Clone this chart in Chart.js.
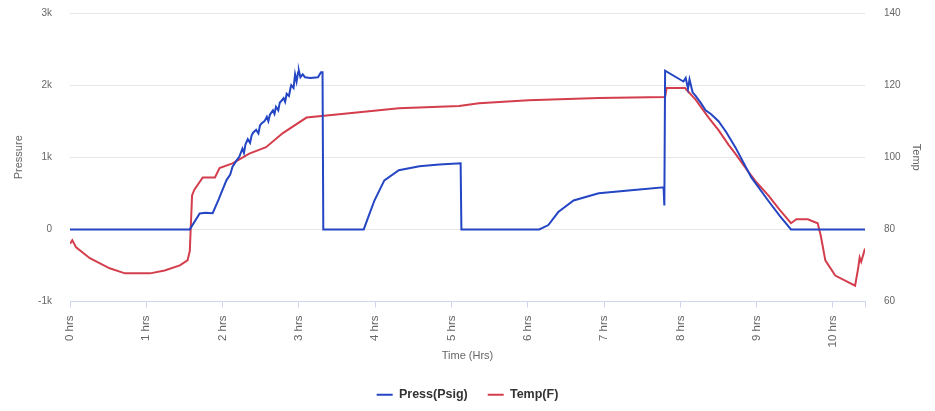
<!DOCTYPE html>
<html>
<head>
<meta charset="utf-8">
<script src="https://cdn.jsdelivr.net/npm/chart.js@4"></script>
<style>
  html, body { margin: 0; padding: 0; background: #fff; }
  #wrap { width: 935px; height: 411px; }
</style>
</head>
<body>
<div id="wrap"><canvas id="chart"></canvas></div>
<script>
// Pressure trace (hours, psig)
const pressHours = [0, 1.57, 1.70, 1.78, 1.87, 1.95, 2.05, 2.10, 2.13, 2.18, 2.22, 2.26, 2.28, 2.30, 2.33, 2.36, 2.38, 2.40, 2.44, 2.47, 2.49, 2.51, 2.55, 2.58, 2.60, 2.62, 2.66, 2.68, 2.70, 2.73, 2.75, 2.77, 2.80, 2.82, 2.84, 2.87, 2.89, 2.90, 2.93, 2.95, 2.97, 2.99, 3.00, 3.02, 3.05, 3.08, 3.15, 3.25, 3.29, 3.31, 3.32,
  3.85, 3.92, 3.99, 4.12, 4.31, 4.58, 4.84, 5.12, 5.13,
  6.15, 6.27, 6.40, 6.60, 6.93, 7.32, 7.78, 7.79, 7.80, 8.04, 8.07, 8.10, 8.12, 8.16, 8.20, 8.27, 8.33, 8.40, 8.50, 8.60, 8.72, 8.93, 9.15, 9.30, 9.45, 10.42];
const pressVals = [0, 0, 220, 230, 225, 420, 680, 760, 870, 950, 1010, 1120, 1060, 1180, 1250, 1200, 1300, 1340, 1380, 1330, 1440, 1470, 1500, 1560, 1500, 1590, 1650, 1600, 1700, 1650, 1760, 1780, 1820, 1770, 1880, 1850, 1960, 2000, 1960, 2150, 2050, 2180, 2200, 2110, 2150, 2110, 2100, 2110, 2180, 2180, 0,
  0, 200, 400, 680, 820, 875, 900, 917, 0,
  0, 60, 240, 400, 500, 540, 583, 330, 2200, 2050, 2100, 1950, 2080, 1900, 1850, 1750, 1650, 1600, 1500, 1350, 1140, 720, 400, 190, 0, 0];

// Temperature trace (hours, F)
const tempHours = [0, 0.03, 0.08, 0.26, 0.52, 0.72, 1.05, 1.24, 1.44, 1.54, 1.57, 1.60, 1.63, 1.74, 1.90, 1.96, 2.13, 2.35, 2.57, 2.79, 3.10, 3.66, 4.31, 5.10, 5.36, 6.01, 6.93, 7.80, 7.82, 8.06, 8.20, 8.37, 8.50, 8.63, 8.72, 8.89, 9.00, 9.15, 9.30, 9.45, 9.52, 9.67, 9.80, 9.84, 9.90, 10.03, 10.29, 10.33, 10.35, 10.37, 10.42];
const tempVals = [76, 77, 75, 72, 69.2, 67.8, 67.8, 68.6, 70, 71.4, 74, 89.4, 91, 94.4, 94.4, 97, 98.3, 101, 102.8, 106.7, 111, 112.2, 113.6, 114.2, 115, 115.8, 116.4, 116.7, 119.2, 119.2, 116, 111, 107.5, 103.5, 101, 96, 93, 89.5, 85.5, 81.7, 82.8, 82.8, 81.7, 78.3, 71.4, 67.2, 64.4, 69.2, 72.2, 71, 74.7];

const pressLabel = 'Press(Psig)';
const tempLabel = 'Temp(F)';

const FONT = '"Lucida Grande", "Liberation Sans", Arial, sans-serif';
const GRID = '#e6e6e6';
const AXIS = '#ccd6eb';
const TXT = '#666666';

const ctx = document.getElementById('chart').getContext('2d');

const chart = new Chart(ctx, {
  type: 'line',
  data: {
    datasets: [{
      label: pressLabel,
      data: pressHours.map((h, i) => ({ x: h, y: pressVals[i] })),
      borderColor: '#2445c4',
      backgroundColor: '#2445c4',
      borderWidth: 2,
      pointRadius: 0,
      tension: 0,
      yAxisID: 'yP'
    }, {
      label: tempLabel,
      data: tempHours.map((h, i) => ({ x: h, y: tempVals[i] })),
      borderColor: '#d43e4c',
      backgroundColor: '#d43e4c',
      borderWidth: 2,
      pointRadius: 0,
      tension: 0,
      yAxisID: 'yT'
    }]
  },
  options: {
    responsive: true,
    maintainAspectRatio: false,
    animation: false,
    layout: { padding: { top: 13, left: 12, right: 12, bottom: 0 } },
    scales: {
      x: {
        type: 'linear',
        min: 0,
        max: 10.42,
        grid: { drawOnChartArea: false, drawTicks: true, tickLength: 6, color: AXIS },
        border: { display: true, color: AXIS },
        ticks: {
          stepSize: 1,
          minRotation: 90,
          maxRotation: 90,
          color: TXT,
          font: { family: FONT, size: 11.5 },
          padding: 8,
          callback: v => Number.isInteger(v) ? v + ' hrs' : ''
        },
        title: { display: true, text: 'Time (Hrs)', color: TXT, font: { family: FONT, size: 11 }, padding: { top: 6, bottom: 6 } },
        afterFit: s => { s.height = 67; }
      },
      yP: {
        position: 'left',
        min: -1000,
        max: 3000,
        grid: { color: GRID, drawTicks: true, tickLength: 16, tickColor: 'rgba(0,0,0,0)' },
        border: { display: false },
        ticks: {
          stepSize: 1000,
          color: TXT,
          font: { family: FONT, size: 10 },
          padding: 2,
          callback: v => v === 0 ? '0' : (v / 1000) + 'k'
        },
        title: { display: true, text: 'Pressure', color: TXT, font: { family: FONT, size: 11 }, padding: 0 },
        afterFit: s => { s.width = 58; }
      },
      yT: {
        position: 'right',
        min: 60,
        max: 140,
        grid: { drawOnChartArea: false, drawTicks: true, tickLength: 17, tickColor: 'rgba(0,0,0,0)' },
        border: { display: false },
        ticks: { stepSize: 20, color: TXT, font: { family: FONT, size: 10 }, padding: 2 },
        title: { display: true, text: 'Temp', color: TXT, font: { family: FONT, size: 11 }, padding: 0 },
        afterFit: s => { s.width = 58; }
      }
    },
    plugins: {
      legend: {
        position: 'bottom',
        labels: {
          usePointStyle: true,
          pointStyle: 'line',
          pointStyleWidth: 16,
          color: '#333333',
          font: { family: FONT, size: 12.5, weight: 'bold' },
          padding: 20
        }
      },
      tooltip: { enabled: false }
    }
  }
});
</script>
</body>
</html>
